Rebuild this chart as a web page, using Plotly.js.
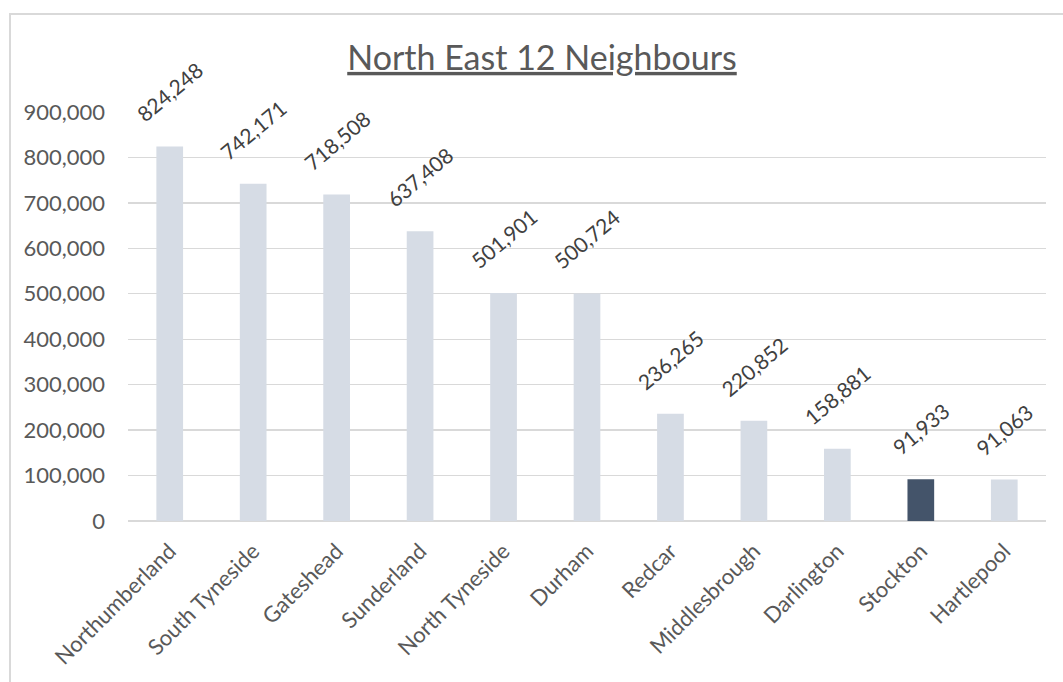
<!DOCTYPE html>
<html>
<head>
<meta charset="utf-8">
<script src="https://cdn.plot.ly/plotly-3.0.1.min.js"></script>
<style>
  html, body { margin: 0; padding: 0; background: #ffffff; overflow: hidden; }
  #wrap { position: relative; width: 1063px; height: 682px; overflow: hidden; }
  #chart { position: absolute; left: 0; top: 0; width: 1063px; height: 682px; }
  #frame { position: absolute; left: 9px; top: 13px; width: 2000px; height: 2000px;
           border-top: 2px solid #d9d9d9; border-left: 2px solid #d9d9d9; pointer-events: none; }
</style>
</head>
<body>
<div id="wrap">
  <div id="chart"></div>
  <div id="frame"></div>
</div>
<script>
const categories = ["Northumberland", "South Tyneside", "Gateshead", "Sunderland", "North Tyneside",
                    "Durham", "Redcar", "Middlesbrough", "Darlington", "Stockton", "Hartlepool"];
const values = [824248, 742171, 718508, 637408, 501901, 500724, 236265, 220852, 158881, 91933, 91063];
const highlight = "Stockton";
const yTickVals = [0, 100000, 200000, 300000, 400000, 500000, 600000, 700000, 800000, 900000];
const yTickText = ["0", "100,000", "200,000", "300,000", "400,000", "500,000", "600,000", "700,000", "800,000", "900,000"];
const chartTitle = "North East 12 Neighbours";

const FONT = "Lato, 'Open Sans', sans-serif";
const barColors = categories.map(c => c === highlight ? "#44546a" : "#d6dce5");

const fmt = v => v.toLocaleString("en-GB");

const annotations = categories.map((c, i) => ({
  x: c, y: values[i], xref: "x", yref: "y",
  text: fmt(values[i]), showarrow: false, textangle: -40,
  xanchor: "center", yanchor: "bottom", yshift: 17,
  font: { family: FONT, size: 21, color: "#404040" }
}));

const trace = {
  type: "bar", x: categories, y: values,
  marker: { color: barColors, line: { width: 0 } },
  hoverinfo: "x+y"
};

const layout = {
  width: 1063, height: 682,
  margin: { l: 128, r: 17, t: 112, b: 161, pad: 0 },
  paper_bgcolor: "#ffffff", plot_bgcolor: "#ffffff",
  bargap: 0.68,
  showlegend: false,
  title: {
    text: "<u>" + chartTitle + "</u>",
    font: { family: FONT, size: 34, color: "#595959" },
    x: 542 / 1063, xref: "container", xanchor: "center",
    y: 1 - 58 / 682, yref: "container", yanchor: "middle"
  },
  xaxis: {
    type: "category", tickangle: -45, showgrid: false, zeroline: false,
    showline: false, ticks: "", ticklabelstandoff: 12,
    tickfont: { family: FONT, size: 22, color: "#595959" }
  },
  yaxis: {
    range: [0, 900000], tickvals: yTickVals, ticktext: yTickText,
    showgrid: true, gridcolor: "#d9d9d9", gridwidth: 1.3,
    zeroline: true, zerolinecolor: "#d9d9d9", zerolinewidth: 1.3,
    showline: false, ticks: "", ticklabelstandoff: 22,
    tickfont: { family: FONT, size: 22, color: "#595959" }
  },
  annotations: annotations
};

Plotly.newPlot("chart", [trace], layout, { displayModeBar: false, staticPlot: true });
</script>
</body>
</html>
